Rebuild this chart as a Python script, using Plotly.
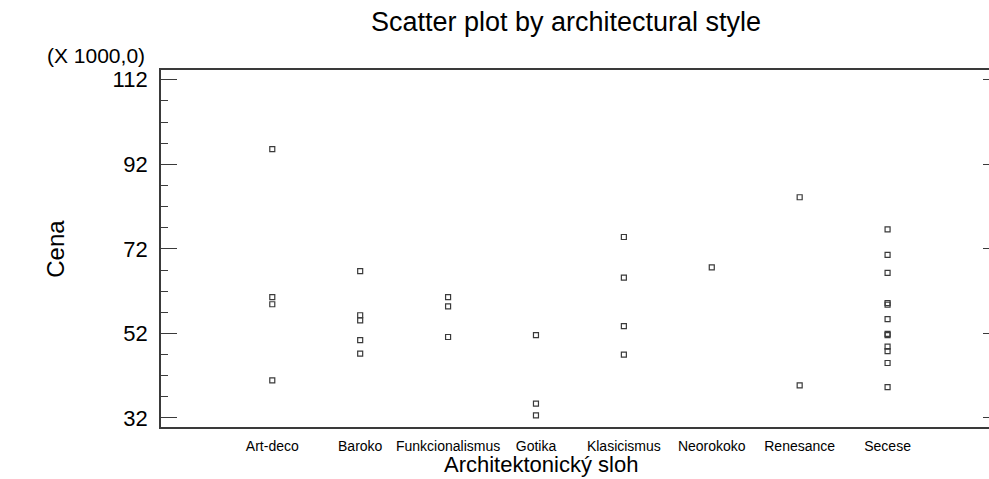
import plotly.graph_objects as go

# Architectural styles on the category axis
styles = ["Art-deco", "Baroko", "Funkcionalismus", "Gotika",
          "Klasicismus", "Neorokoko", "Renesance", "Secese"]

# Prices (in thousands) per style
art_deco = [95.6, 60.6, 58.9, 40.9]
baroko = [66.75, 56.3, 55.1, 50.4, 47.2]
funkcionalismus = [60.6, 58.4, 51.15]
gotika = [51.6, 35.4, 32.6]
klasicismus = [74.8, 65.2, 53.75, 47.0]
neorokoko = [67.6]
renesance = [84.2, 39.7]
secese = [76.6, 70.6, 66.3, 59.2, 58.8, 55.4, 51.9, 51.6,
          48.9, 47.8, 45.0, 39.3]

groups = [art_deco, baroko, funkcionalismus, gotika,
          klasicismus, neorokoko, renesance, secese]

xs, ys = [], []
for style, vals in zip(styles, groups):
    xs.extend([style] * len(vals))
    ys.extend(vals)

W, H = 989, 479
L, R, T, B = 161, 0, 69.5, 52
plot_w = W - L - R
plot_h = H - T - B

ink = "#3a3a3a"
font = "Liberation Sans, Arial, sans-serif"

fig = go.Figure()
fig.add_trace(go.Scatter(
    x=xs, y=ys, mode="markers",
    marker=dict(symbol="square-open", size=5, color=ink,
                line=dict(width=1.2, color=ink)),
    showlegend=False, cliponaxis=False,
))
# empty trace that carries the right-hand tick axis
fig.add_trace(go.Scatter(x=[], y=[], yaxis="y2", showlegend=False))

yrange = [29.87, 114.3]

fig.update_layout(
    width=W, height=H,
    margin=dict(l=L, r=R, t=T, b=B, pad=0),
    paper_bgcolor="white", plot_bgcolor="white",
    font=dict(family=font, color="black"),
    title=dict(text="Scatter plot by architectural style",
               x=566 / W, xanchor="center",
               y=1 - 22 / H, yanchor="middle",
               font=dict(size=27, color="black", family=font)),
    xaxis=dict(
        type="category", categoryorder="array", categoryarray=styles,
        range=[-1.266, 8.154],
        showline=True, linecolor=ink, linewidth=1.8, mirror=True,
        ticks="", showgrid=False, zeroline=False,
        tickfont=dict(size=14, color="black"), tickangle=0,
        ticklabelstandoff=5,
    ),
    yaxis=dict(
        range=yrange, tick0=32, dtick=20,
        showline=True, linecolor=ink, linewidth=1.8,
        ticks="inside", ticklen=16, tickwidth=1.4, tickcolor=ink,
        minor=dict(dtick=5, tick0=32, ticks="inside", ticklen=7,
                   tickwidth=1.4, tickcolor=ink, showgrid=False),
        showgrid=False, zeroline=False,
        tickfont=dict(size=22, color="black"),
        ticklabelstandoff=7,
    ),
    yaxis2=dict(
        range=yrange, tick0=32, dtick=20, overlaying="y", side="right",
        anchor="x", showline=False, showticklabels=False,
        ticks="inside", ticklen=6, tickwidth=1.4, tickcolor=ink,
        showgrid=False, zeroline=False,
    ),
    annotations=[
        dict(text="(X 1000,0)", xref="paper", yref="paper",
             x=(147 - L) / plot_w, xanchor="right",
             y=(H - B - 55) / plot_h, yanchor="middle",
             showarrow=False, font=dict(size=21, color="black")),
        dict(text="Cena", xref="paper", yref="paper",
             x=(55.5 - L) / plot_w, xanchor="center",
             y=(H - B - 248) / plot_h, yanchor="middle",
             textangle=-90, showarrow=False,
             font=dict(size=24, color="black")),
        dict(text="Architektonický sloh", xref="paper", yref="paper",
             x=(541 - L) / plot_w, xanchor="center",
             y=(H - B - 465) / plot_h, yanchor="middle",
             showarrow=False, font=dict(size=22, color="black")),
    ],
)

fig.write_html("out.html")
